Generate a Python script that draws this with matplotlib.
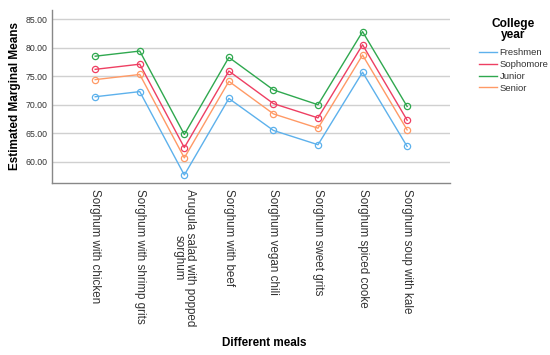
import matplotlib
matplotlib.use("Agg")
import matplotlib.pyplot as plt
from matplotlib.lines import Line2D
import numpy as np

plt.rcParams['font.family'] = ['Liberation Sans', 'DejaVu Sans']

meals = ["Sorghum with chicken", "Sorghum with shrimp grits",
         "Arugula salad with popped\nsorghum", "Sorghum with beef",
         "Sorghum vegan chili", "Sorghum sweet grits",
         "Sorghum spiced cooke", "Sorghum soup with kale"]

freshmen = [71.4, 72.3, 57.7, 71.1, 65.5, 63.0, 75.7, 62.7]
sophomore = [76.2, 77.1, 62.5, 75.9, 70.2, 67.7, 80.5, 67.3]
junior = [78.5, 79.4, 64.8, 78.3, 72.6, 70.0, 82.8, 69.7]
senior = [74.4, 75.3, 60.7, 74.1, 68.4, 65.9, 78.7, 65.6]

groups = ["Freshmen", "Sophomore", "Junior", "Senior"]
colors = ["#5DB1EC", "#EE3F62", "#2FA84F", "#FF9A66"]

fig = plt.figure(figsize=(5.5, 3.55), dpi=100)
ax = fig.add_axes([0.0945, 0.4845, 0.7235, 0.4875])

x = np.arange(len(meals))
handles = []
for vals, name, c in zip([freshmen, sophomore, junior, senior], groups, colors):
    ax.plot(x, vals, color=c, lw=1, marker='o', ms=4.5, mfc='none', mew=0.9, zorder=3)
    handles.append(Line2D([], [], color=c, lw=1, label=name))

ax.set_xlim(-0.97, 7.96)
ax.set_ylim(56.3, 86.6)
ax.set_yticks([60, 65, 70, 75, 80, 85])
ax.set_yticklabels(["%.2f" % v for v in [60, 65, 70, 75, 80, 85]], fontsize=6.3)
ax.set_xticks(x)
ax.set_xticklabels(meals, rotation=270, fontsize=8.4, linespacing=0.9, va='top', ha='center')
ax.tick_params(length=0, pad=3, colors='#333333')
ax.tick_params(axis='x', pad=4)

ax.grid(axis='y', color='#D0D0D0', lw=1)
ax.set_axisbelow(True)
for s in ['top', 'right']:
    ax.spines[s].set_visible(False)
for s in ['left', 'bottom']:
    ax.spines[s].set_color('#888888')
    ax.spines[s].set_linewidth(1)

fig.text(15 / 550, 1 - 96 / 355, "Estimated Marginal Means", rotation=90, fontsize=8.5,
         fontweight='bold', ha='center', va='center')
fig.text(264 / 550, 1 - 343 / 355, "Different meals", fontsize=8.4,
         fontweight='bold', ha='center', va='center')

leg = ax.legend(handles=handles, loc='upper left', bbox_to_anchor=(474 / 550, 1 - 13 / 355),
                bbox_transform=fig.transFigure, frameon=False, fontsize=6.8,
                title="College\nyear", title_fontproperties={'weight': 'bold', 'size': 8.6},
                handlelength=1.9, handletextpad=0.3, labelspacing=0.3, borderpad=0)
leg.get_title().set_multialignment('center')
leg.get_title().set_linespacing(0.95)
leg._legend_box.sep = 5
for t in leg.get_texts():
    t.set_color('#333333')

fig.savefig("out.png", dpi=100)
